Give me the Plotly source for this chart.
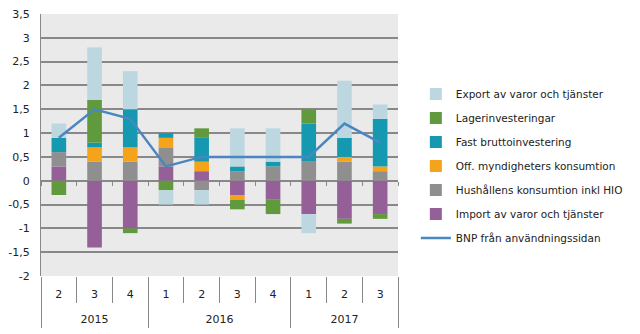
import plotly.graph_objects as go

years = ['2015'] * 3 + ['2016'] * 4 + ['2017'] * 3
quarters = ['2', '3', '4', '1', '2', '3', '4', '1', '2', '3']

import_vt = [0.3, -1.4, -1.0, 0.3, 0.2, -0.3, -0.4, -0.7, -0.8, -0.7]
hushall = [0.3, 0.4, 0.4, 0.4, -0.2, 0.2, 0.3, 0.4, 0.4, 0.2]
off_myn = [0.0, 0.3, 0.3, 0.2, 0.2, -0.1, 0.0, 0.0, 0.1, 0.1]
fast_bi = [0.3, 0.1, 0.8, 0.1, 0.5, 0.1, 0.1, 0.8, 0.4, 1.0]
lager = [-0.3, 0.9, -0.1, -0.2, 0.2, -0.2, -0.3, 0.3, -0.1, -0.1]
export_vt = [0.3, 1.1, 0.8, -0.3, -0.3, 0.8, 0.7, -0.4, 1.2, 0.3]
bnp = [0.9, 1.5, 1.3, 0.3, 0.5, 0.5, 0.5, 0.5, 1.2, 0.8]

ytick_vals = [-2, -1.5, -1, -0.5, 0, 0.5, 1, 1.5, 2, 2.5, 3, 3.5]
ytick_text = ['-2', '-1,5', '-1', '-0,5', '0', '0,5', '1', '1,5', '2', '2,5', '3', '3,5']

# category index positions (the axis is an ordinal category scale)
idx = list(range(len(quarters)))
n = len(idx)
quarter_bounds = [i - 0.5 for i in range(n + 1)]
year_names = []
for y in years:
    if y not in year_names:
        year_names.append(y)
year_centers = [sum(i for i in idx if years[i] == y) / years.count(y) for y in year_names]
year_bounds = [-0.5] + [i + 0.5 for i in idx[:-1] if years[i] != years[i + 1]] + [n - 0.5]

bar_series = [
    ('Import av varor och tjänster', import_vt, '#956098', 6),
    ('Hushållens konsumtion inkl HIO', hushall, '#8F8F8F', 5),
    ('Off. myndigheters konsumtion', off_myn, '#F5A31B', 4),
    ('Fast bruttoinvestering', fast_bi, '#1599B0', 3),
    ('Lagerinvesteringar', lager, '#619A3C', 2),
    ('Export av varor och tjänster', export_vt, '#BDD7E0', 1),
]

fig = go.Figure()
for name, vals, col, rank in bar_series:
    fig.add_trace(go.Bar(x=idx, y=vals, name=name, marker=dict(color=col, line=dict(width=0)),
                         legendrank=rank, legendgroup=name))
fig.add_trace(go.Scatter(x=idx, y=bnp, name='BNP från användningssidan', mode='lines',
                         xaxis='x2',
                         line=dict(color='#4A86C0', width=2.5), legendrank=7, legendgroup='bnp'))
# empty helper trace so the zero-line tick axis is rendered
fig.add_trace(go.Scatter(x=[None], y=[None], xaxis='x3', showlegend=False, hoverinfo='skip'))

zero_frac = 2 / 5.5
xr = [-0.5, n - 0.5]
grey = '#888888'

fig.update_layout(
    width=640, height=334,
    margin=dict(l=41, r=235, t=14, b=58),
    barmode='relative', bargap=0.59,
    plot_bgcolor='#EAEAEA', paper_bgcolor='white',
    font=dict(family='DejaVu Sans', size=11, color='#222222'),
    legend=dict(x=1.05, y=0.75, xanchor='left', yanchor='top', font=dict(size=10.5),
                tracegroupgap=5, bgcolor='rgba(0,0,0,0)'),
    xaxis=dict(range=xr, tickmode='array', tickvals=idx, ticktext=quarters, ticks='',
               showgrid=False, zeroline=False, showline=False, ticklabelstandoff=10,
               tickfont=dict(size=11), automargin=False,
               minor=dict(tickmode='array', tickvals=quarter_bounds, ticks='outside',
                          ticklen=26, tickwidth=1, tickcolor=grey, showgrid=False)),
    xaxis2=dict(overlaying='x', anchor='free', position=0, range=xr,
                tickmode='array', tickvals=year_centers, ticktext=year_names, ticks='',
                showgrid=False, zeroline=False, showline=False, ticklabelstandoff=35,
                tickfont=dict(size=11), automargin=False,
                minor=dict(tickmode='array', tickvals=year_bounds, ticks='outside',
                           ticklen=51, tickwidth=1, tickcolor=grey, showgrid=False)),
    xaxis3=dict(overlaying='x', anchor='free', position=zero_frac, range=xr,
                tickmode='array', tickvals=quarter_bounds, ticks='outside', ticklen=4,
                tickwidth=1, tickcolor=grey, showticklabels=False, showgrid=False,
                zeroline=False, showline=False, automargin=False),
    yaxis=dict(range=[-2, 3.5], tickvals=ytick_vals, ticktext=ytick_text,
               showgrid=True, gridcolor=grey, gridwidth=1.5,
               zeroline=True, zerolinecolor=grey, zerolinewidth=1.5,
               showline=True, linecolor=grey, linewidth=1, automargin=False,
               ticks='', ticklabelstandoff=8, tickfont=dict(size=11)),
    showlegend=True,
)

fig.write_html('out.html')
